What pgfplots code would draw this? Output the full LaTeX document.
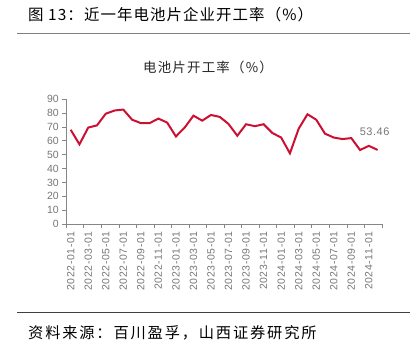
\documentclass[border=0pt]{standalone}
\usepackage{pgfplots}
\usepackage{pgfplotstable}
\pgfplotsset{compat=1.18}
\usepackage{fontspec}
\setmainfont{Liberation Sans}
\newfontfamily\cjktitle[LetterSpace=7]{Noto Sans CJK SC}
\newfontfamily\cjkinner[LetterSpace=9]{Noto Sans CJK SC}
\newfontfamily\cjksrc[LetterSpace=12]{Noto Sans CJK SC}
\newfontfamily\xlab[LetterSpace=6]{Liberation Sans}
\newfontfamily\dlab[LetterSpace=5]{Liberation Sans}
\definecolor{linered}{RGB}{204,16,52}
\definecolor{tickgray}{RGB}{118,118,118}
\definecolor{axgray}{RGB}{134,134,134}
\pgfplotstableread{
x y
0 68.0
1 57.5
2 69.6
3 71.2
4 79.6
5 81.9
6 82.6
7 75.3
8 72.8
9 72.8
10 76.1
11 73.2
12 63.2
13 69.6
14 78.2
15 74.6
16 78.7
17 77.3
18 72.2
19 63.7
20 72.0
21 70.6
22 72.0
23 65.7
24 62.4
25 51.0
26 68.8
27 79.2
28 75.3
29 65.2
30 62.4
31 61.3
32 62.0
33 53.4
34 56.4
35 53.46
}\datatable
\begin{document}
\begin{tikzpicture}[x=1bp,y=1bp]
\useasboundingbox (0,0) rectangle (418,353);
\node[anchor=west,inner sep=0pt,font=\cjktitle\fontsize{15.5}{17}\selectfont] at (28,338) {图 13：近一年电池片企业开工率（\%）};
\draw[color=gray,line width=1.3bp] (17,319.7) -- (410,319.7);
\node[inner sep=0pt,font=\cjkinner\fontsize{13.5}{15}\selectfont,text=black!85] at (208,286) {电池片开工率（\%）};
\draw[color=black!75,line width=1.1bp] (17,40.7) -- (410,40.7);
\node[anchor=west,inner sep=0pt,font=\cjksrc\fontsize{15.3}{17}\selectfont] at (28,20) {资料来源：百川盈孚，山西证券研究所};
\begin{axis}[
  at={(66.3bp,129bp)}, anchor=south west,
  scale only axis, width=315.7bp, height=124.7bp,
  xmin=-0.5, xmax=35.5, ymin=0, ymax=90,
  axis lines*=left,
  axis line style={color=axgray, line width=0.8bp},
  clip=false,
  ytick={0,10,...,90},
  xtick={0,2,...,34},
  xticklabels={2022-01-01,2022-03-01,2022-05-01,2022-07-01,2022-09-01,2022-11-01,2023-01-01,2023-03-01,2023-05-01,2023-07-01,2023-09-01,2023-11-01,2024-01-01,2024-03-01,2024-05-01,2024-07-01,2024-09-01,2024-11-01},
  minor xtick={-0.5,1.5,...,35.5},
  major x tick style={draw=none},
  tick align=outside,
  major tick length=4bp, minor tick length=4bp,
  tick style={color=axgray, line width=0.8bp},
  /pgf/number format/assume math mode=true,
  yticklabel style={font=\fontsize{10.5}{12}\selectfont, text=tickgray},
  xticklabel style={font=\xlab\fontsize{10.5}{12}\selectfont, text=tickgray, rotate=90, anchor=east},
]
\addplot[color=linered, line width=2bp, mark=none] table[x=x,y=y] {\datatable};
\node[font=\dlab\fontsize{11}{13}\selectfont, text=tickgray, inner sep=0pt] at ([xshift=-3bp,yshift=18bp]axis cs:35,53.46) {53.46};
\end{axis}
\end{tikzpicture}
\end{document}
